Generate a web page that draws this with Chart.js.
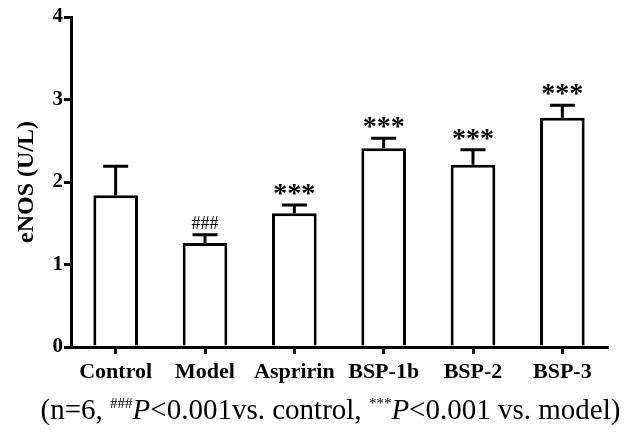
<!DOCTYPE html>
<html>
<head>
<meta charset="utf-8">
<script src="https://cdn.jsdelivr.net/npm/chart.js@4"></script>
<style>
  html, body { margin: 0; padding: 0; background: #fff; }
  #wrap { position: relative; width: 629px; height: 437px; }
  #caption {
    position: absolute; left: 0; top: 392px; width: 629px; text-align: center;
    font-family: "Liberation Serif", "DejaVu Serif", serif; font-size: 29px; line-height: 34px; color: #000;
    white-space: nowrap; padding-left: 32px; box-sizing: border-box;
  }
  #caption sup { font-size: 15px; vertical-align: 11px; line-height: 0; }
</style>
</head>
<body>
<div id="wrap">
  <canvas id="c" width="629" height="437"></canvas>
  <div id="caption">(n=6, <sup>###</sup><i>P</i>&lt;0.001vs. control, <sup>***</sup><i>P</i>&lt;0.001 vs. model)</div>
</div>
<script>
const groups = ['Control', 'Model', 'Aspririn', 'BSP-1b', 'BSP-2', 'BSP-3'];
const means = [1.84, 1.26, 1.62, 2.41, 2.21, 2.78];
const errors = [0.35, 0.10, 0.10, 0.12, 0.18, 0.15];
const marks = ['', '###', '***', '***', '***', '***'];
const yTicks = [0, 1, 2, 3, 4];

const SERIF = '"Liberation Serif", "DejaVu Serif", serif';

// error bars (upper only) and significance marks
const extras = {
  id: 'extras',
  afterDatasetsDraw(chart) {
    const ctx = chart.ctx;
    const y = chart.scales.y;
    const meta = chart.getDatasetMeta(0);
    ctx.save();
    ctx.strokeStyle = '#000';
    ctx.lineWidth = 3;
    ctx.fillStyle = '#000';
    ctx.textAlign = 'center';
    meta.data.forEach((bar, i) => {
      const x = bar.x;
      const top = y.getPixelForValue(means[i]);
      const eTop = y.getPixelForValue(means[i] + errors[i]);
      ctx.beginPath();
      ctx.moveTo(x, top);
      ctx.lineTo(x, eTop);
      ctx.moveTo(x - 12.5, eTop);
      ctx.lineTo(x + 12.5, eTop);
      ctx.stroke();
      if (marks[i] === '###') {
        ctx.font = '18px ' + SERIF;
        ctx.fillText(marks[i], x, eTop - 6);
      } else if (marks[i]) {
        ctx.font = 'bold 28px ' + SERIF;
        ctx.fillText(marks[i], x, eTop - 3);
      }
    });
    ctx.restore();
  }
};

new Chart(document.getElementById('c'), {
  type: 'bar',
  data: {
    labels: groups,
    datasets: [{
      data: means,
      backgroundColor: '#fff',
      borderColor: '#000',
      borderWidth: 3,
      barPercentage: 0.5,
      categoryPercentage: 1
    }]
  },
  options: {
    responsive: false,
    animation: false,
    layout: { padding: { top: 17, right: 22, left: 0, bottom: 0 } },
    plugins: { legend: { display: false }, tooltip: { enabled: false } },
    scales: {
      x: {
        grid: { display: true, drawOnChartArea: false, offset: false, tickLength: 7, lineWidth: 3, color: '#000' },
        border: { display: true, width: 3, color: '#000' },
        ticks: { color: '#000', font: { family: SERIF, size: 22, weight: 'bold' }, padding: 5 },
        afterFit: s => { s.height = 90; }
      },
      y: {
        min: 0, max: 4,
        afterBuildTicks: s => { s.ticks = yTicks.map(v => ({ value: v })); },
        grid: { display: true, drawOnChartArea: false, tickLength: 7, lineWidth: 3, color: '#000' },
        border: { display: true, width: 3, color: '#000' },
        ticks: { color: '#000', font: { family: SERIF, size: 21, weight: 'bold' }, padding: 1 },
        title: { display: true, text: 'eNOS (U/L)', color: '#000', font: { family: SERIF, size: 24, weight: 'bold' }, padding: { top: 12, bottom: 0 } },
        afterFit: s => { s.width = 71; }
      }
    }
  },
  plugins: [extras]
});
</script>
</body>
</html>
